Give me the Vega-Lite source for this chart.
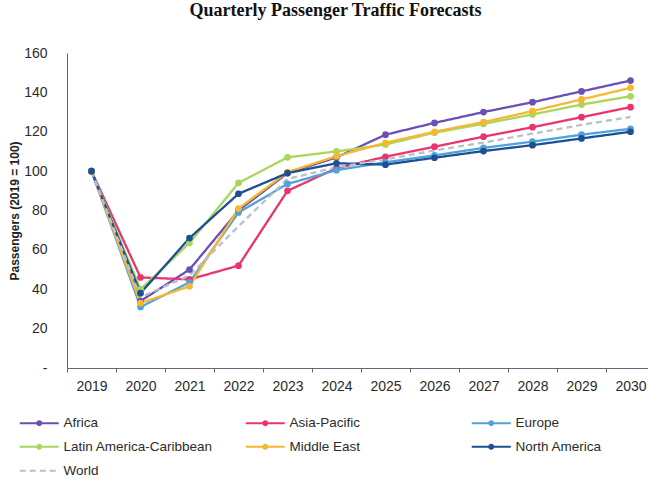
{
  "$schema": "https://vega.github.io/schema/vega-lite/v6.json",
  "width": 581,
  "height": 315,
  "autosize": "none",
  "padding": {"left": 67, "top": 53, "right": 0, "bottom": 111},
  "background": "white",
  "title": {
    "text": "Quarterly Passenger Traffic Forecasts",
    "font": "Liberation Serif",
    "fontSize": 18,
    "fontWeight": "bold",
    "color": "#111111",
    "anchor": "middle",
    "dx": -22,
    "offset": 26
  },
  "config": {
    "view": {"stroke": null},
    "font": "Liberation Sans, Arial, sans-serif"
  },
  "data": {
    "values": [
      {"region": "Africa", "year": "2019", "value": 100},
      {"region": "Africa", "year": "2020", "value": 34},
      {"region": "Africa", "year": "2021", "value": 50},
      {"region": "Africa", "year": "2022", "value": 80},
      {"region": "Africa", "year": "2023", "value": 99},
      {"region": "Africa", "year": "2024", "value": 107},
      {"region": "Africa", "year": "2025", "value": 118.5},
      {"region": "Africa", "year": "2026", "value": 124.5},
      {"region": "Africa", "year": "2027", "value": 130},
      {"region": "Africa", "year": "2028", "value": 135},
      {"region": "Africa", "year": "2029", "value": 140.5},
      {"region": "Africa", "year": "2030", "value": 146},
      {"region": "Asia-Pacific", "year": "2019", "value": 100},
      {"region": "Asia-Pacific", "year": "2020", "value": 46},
      {"region": "Asia-Pacific", "year": "2021", "value": 45},
      {"region": "Asia-Pacific", "year": "2022", "value": 52},
      {"region": "Asia-Pacific", "year": "2023", "value": 90},
      {"region": "Asia-Pacific", "year": "2024", "value": 101.5},
      {"region": "Asia-Pacific", "year": "2025", "value": 107.3},
      {"region": "Asia-Pacific", "year": "2026", "value": 112.4},
      {"region": "Asia-Pacific", "year": "2027", "value": 117.5},
      {"region": "Asia-Pacific", "year": "2028", "value": 122.3},
      {"region": "Asia-Pacific", "year": "2029", "value": 127.4},
      {"region": "Asia-Pacific", "year": "2030", "value": 132.5},
      {"region": "Europe", "year": "2019", "value": 100},
      {"region": "Europe", "year": "2020", "value": 31},
      {"region": "Europe", "year": "2021", "value": 43.5},
      {"region": "Europe", "year": "2022", "value": 79},
      {"region": "Europe", "year": "2023", "value": 93.5},
      {"region": "Europe", "year": "2024", "value": 100.5},
      {"region": "Europe", "year": "2025", "value": 104.5},
      {"region": "Europe", "year": "2026", "value": 108},
      {"region": "Europe", "year": "2027", "value": 111.8},
      {"region": "Europe", "year": "2028", "value": 115},
      {"region": "Europe", "year": "2029", "value": 118.5},
      {"region": "Europe", "year": "2030", "value": 121.5},
      {"region": "Latin America-Caribbean", "year": "2019", "value": 100},
      {"region": "Latin America-Caribbean", "year": "2020", "value": 40},
      {"region": "Latin America-Caribbean", "year": "2021", "value": 63.5},
      {"region": "Latin America-Caribbean", "year": "2022", "value": 94},
      {"region": "Latin America-Caribbean", "year": "2023", "value": 107},
      {"region": "Latin America-Caribbean", "year": "2024", "value": 110},
      {"region": "Latin America-Caribbean", "year": "2025", "value": 113.5},
      {"region": "Latin America-Caribbean", "year": "2026", "value": 119.5},
      {"region": "Latin America-Caribbean", "year": "2027", "value": 124},
      {"region": "Latin America-Caribbean", "year": "2028", "value": 128.8},
      {"region": "Latin America-Caribbean", "year": "2029", "value": 133.8},
      {"region": "Latin America-Caribbean", "year": "2030", "value": 138},
      {"region": "Middle East", "year": "2019", "value": 100},
      {"region": "Middle East", "year": "2020", "value": 33},
      {"region": "Middle East", "year": "2021", "value": 41.5},
      {"region": "Middle East", "year": "2022", "value": 81},
      {"region": "Middle East", "year": "2023", "value": 99.5},
      {"region": "Middle East", "year": "2024", "value": 107.6},
      {"region": "Middle East", "year": "2025", "value": 114.4},
      {"region": "Middle East", "year": "2026", "value": 120},
      {"region": "Middle East", "year": "2027", "value": 124.9},
      {"region": "Middle East", "year": "2028", "value": 130.5},
      {"region": "Middle East", "year": "2029", "value": 136.4},
      {"region": "Middle East", "year": "2030", "value": 142.3},
      {"region": "North America", "year": "2019", "value": 100},
      {"region": "North America", "year": "2020", "value": 38},
      {"region": "North America", "year": "2021", "value": 66},
      {"region": "North America", "year": "2022", "value": 88.5},
      {"region": "North America", "year": "2023", "value": 99},
      {"region": "North America", "year": "2024", "value": 104},
      {"region": "North America", "year": "2025", "value": 103.3},
      {"region": "North America", "year": "2026", "value": 106.8},
      {"region": "North America", "year": "2027", "value": 110.2},
      {"region": "North America", "year": "2028", "value": 113.2},
      {"region": "North America", "year": "2029", "value": 116.6},
      {"region": "North America", "year": "2030", "value": 120},
      {"region": "World", "year": "2019", "value": 100},
      {"region": "World", "year": "2020", "value": 36},
      {"region": "World", "year": "2021", "value": 47},
      {"region": "World", "year": "2022", "value": 72},
      {"region": "World", "year": "2023", "value": 96},
      {"region": "World", "year": "2024", "value": 102},
      {"region": "World", "year": "2025", "value": 106},
      {"region": "World", "year": "2026", "value": 110.5},
      {"region": "World", "year": "2027", "value": 114.5},
      {"region": "World", "year": "2028", "value": 119},
      {"region": "World", "year": "2029", "value": 123.5},
      {"region": "World", "year": "2030", "value": 127.5}
    ]
  },
  "encoding": {
    "x": {
      "field": "year",
      "type": "nominal",
      "scale": {"type": "band", "paddingInner": 0, "paddingOuter": 0, "range": [0, 588]},
      "axis": {
        "title": null,
        "labelAngle": 0,
        "tickBand": "extent",
        "grid": false,
        "domainColor": "#666666",
        "tickColor": "#666666",
        "tickSize": 4,
        "labelPadding": 7,
        "labelFontSize": 14,
        "labelColor": "#2b2b2b"
      }
    },
    "y": {
      "field": "value",
      "type": "quantitative",
      "scale": {"domain": [0, 160], "nice": false},
      "axis": {
        "title": "Passengers (2019 = 100)",
        "titleFont": "Liberation Sans, Arial, sans-serif",
        "titleFontSize": 12,
        "titleFontWeight": "bold",
        "titleColor": "#222222",
        "titlePadding": 2,
        "values": [0, 20, 40, 60, 80, 100, 120, 140, 160],
        "labelExpr": "datum.value === 0 ? '-' : datum.label",
        "grid": false,
        "ticks": false,
        "domainColor": "#666666",
        "labelPadding": 20,
        "labelFontSize": 14,
        "labelColor": "#2b2b2b"
      }
    },
    "color": {
      "field": "region",
      "type": "nominal",
      "scale": {
        "domain": ["Africa", "Asia-Pacific", "Europe", "Latin America-Caribbean", "Middle East", "North America", "World"],
        "range": ["#6c4fb5", "#e8356f", "#4fa3da", "#a9d65c", "#f6b830", "#1d4f94", "#b9c0c9"]
      },
      "legend": {
        "title": null,
        "orient": "none",
        "direction": "horizontal",
        "legendX": -49,
        "legendY": 363,
        "columns": 3,
        "gridAlign": "all",
        "columnPadding": 28,
        "rowPadding": 9,
        "padding": 0,
        "symbolType": "M-1,0H6.8M3.3,0A0.4,0.4,0,1,1,2.5,0A0.4,0.4,0,1,1,3.3,0Z",
        "symbolSize": 100,
        "symbolStrokeWidth": 2,
        "labelOffset": 32,
        "labelFontSize": 13.5,
        "labelColor": "#2b2b2b",
        "encode": {
          "symbols": {
            "update": {
              "shape": {"signal": "datum.value === 'World' ? 'M-1,0H6.8' : 'M-1,0H6.8M3.3,0A0.4,0.4,0,1,1,2.5,0A0.4,0.4,0,1,1,3.3,0Z'"}
            }
          }
        }
      }
    }
  },
  "layer": [
    {
      "mark": {"type": "line", "strokeWidth": 2.3},
      "encoding": {
        "strokeDash": {
          "field": "region",
          "type": "nominal",
          "scale": {
            "domain": ["Africa", "Asia-Pacific", "Europe", "Latin America-Caribbean", "Middle East", "North America", "World"],
            "range": [[1, 0], [1, 0], [1, 0], [1, 0], [1, 0], [1, 0], [6, 4]]
          },
          "legend": {"title": null}
        }
      }
    },
    {
      "transform": [{"filter": "datum.region !== 'World'"}],
      "mark": {"type": "point", "filled": true, "size": 45, "opacity": 1},
      "encoding": {}
    }
  ]
}
